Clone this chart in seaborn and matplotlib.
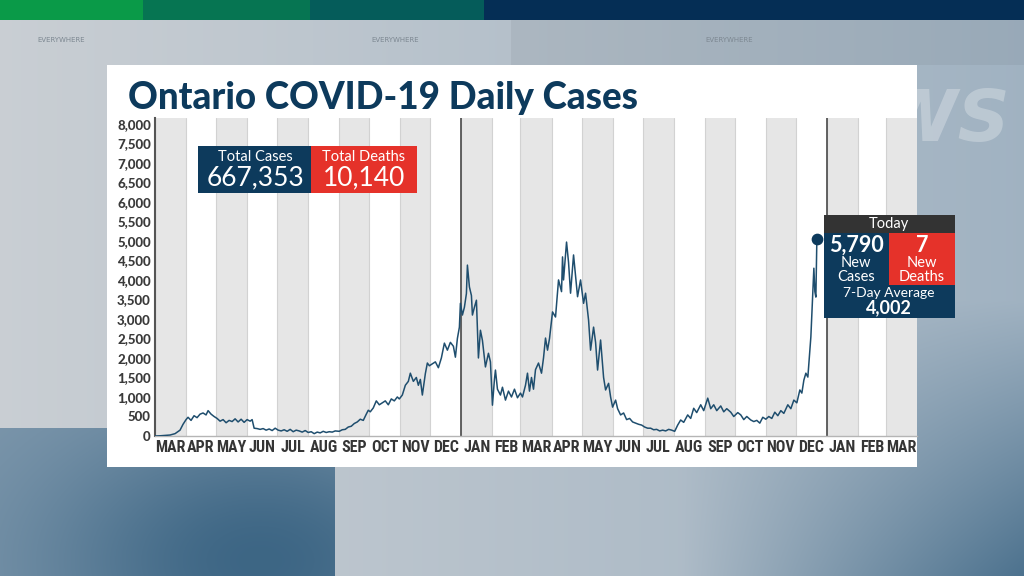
import numpy as np
import pandas as pd
import matplotlib.pyplot as plt
import seaborn as sns
from matplotlib.patches import Rectangle
from matplotlib import font_manager as fm

# data: days since 2020-03-01 and daily new cases
start_date = '2020-03-01'
days = [0, 5, 10, 15, 20, 25, 28, 31, 33, 36, 39, 42, 45, 48, 51, 53, 56, 59,
        62, 65, 68, 71, 74, 77, 80, 83, 86, 89, 92, 95, 97,
        99, 102, 105, 108, 111, 114, 117, 120,
        123, 126, 129, 132, 135, 138, 141, 144, 147, 150,
        153, 156, 159, 162, 165, 168, 171, 174, 177, 180,
        184, 187, 190, 193, 196, 199, 202, 205, 208, 211, 213,
        215, 218, 221, 224, 227, 230, 233, 236, 239, 242, 244,
        247, 250, 253, 255, 258, 261, 263, 265, 267, 270, 272, 274,
        277, 280, 283, 286, 289, 292, 295, 298, 300, 302, 304, 305,
        307, 309, 311, 312, 314, 316, 317, 319, 321, 323, 325, 327, 330, 333, 335,
        337, 339, 340, 342, 345, 347, 350, 353, 356, 359, 362,
        365, 367, 370, 372, 374, 376, 378, 380, 383, 386, 388, 390, 392, 394,
        397, 400, 403, 406, 407, 408, 411, 413, 415, 418, 420, 422, 425,
        428, 430, 433, 435, 438, 440, 442, 445, 448, 450, 453, 455, 457,
        460, 462, 465, 468, 471, 474, 477, 480, 483, 486,
        489, 492, 495, 498, 501, 504, 507, 510, 513, 516,
        519, 522, 525, 528, 532, 535, 538, 541, 545, 548,
        552, 555, 558, 561, 565, 568, 571, 575, 578,
        582, 585, 588, 591, 595, 598, 601, 604, 607,
        610, 613, 616, 619, 622, 625, 628, 632, 635, 638, 641,
        644, 646, 648, 650, 652, 655, 658, 659, 660, 661]
cases = [0, 5, 15, 25, 60, 150, 300, 420, 480, 400, 520, 470, 560, 590, 540, 650, 560, 500,
         450, 380, 420, 340, 400, 370, 440, 360, 430, 350, 420, 380, 420,
         200, 190, 170, 190, 150, 180, 140, 200,
         150, 130, 160, 120, 170, 110, 150, 130, 100, 140,
         90, 110, 60, 100, 80, 120, 90, 110, 100, 130,
         120, 160, 170, 230, 250, 320, 360, 430, 400, 560, 660,
         620, 720, 900, 800, 850, 900, 800, 950, 900, 1000, 950,
         1050, 1300, 1400, 1610, 1400, 1500, 1300, 1450, 1050, 1600, 1870, 1800,
         1850, 1900, 1750, 2000, 2380, 2200, 2400, 2300, 2020, 2500, 2790, 3400,
         3100, 3300, 3650, 4380, 3820, 3600, 3100, 3300, 3480, 2000, 2710, 2450, 1770, 2120, 1900,
         790, 1450, 1690, 1200, 1050, 1250, 920, 1150, 1000, 1200, 980,
         1100, 1000, 1300, 1610, 1150, 1500, 1200, 1700, 1870, 1610, 2000, 2510, 2200, 2500,
         3180, 3050, 4000, 3700, 4590, 4000, 4970, 4450, 3660, 4640, 4100, 3570, 4000,
         3400, 3660, 2970, 2200, 2790, 2400, 1690, 2460, 1500, 1180, 1350, 1000, 740,
         920, 700, 540, 590, 420, 450, 360, 330, 300, 280,
         230, 200, 200, 160, 170, 130, 150, 130, 170, 150,
         120, 280, 410, 350, 540, 450, 710, 600, 800, 650,
         970, 700, 800, 650, 770, 620, 700, 610, 500,
         600, 540, 420, 500, 410, 370, 400, 330, 480,
         430, 500, 450, 610, 520, 650, 580, 800, 700, 920, 850,
         1180, 1100, 1430, 1610, 1510, 2540, 4300, 3700, 3560, 5050]
assert len(days) == len(cases)

month_labels = ['MAR', 'APR', 'MAY', 'JUN', 'JUL', 'AUG', 'SEP', 'OCT', 'NOV', 'DEC', 'JAN', 'FEB',
                'MAR', 'APR', 'MAY', 'JUN', 'JUL', 'AUG', 'SEP', 'OCT', 'NOV', 'DEC', 'JAN', 'FEB', 'MAR']
y_ticks = list(range(0, 8001, 500))

total_cases = '667,353'
total_deaths = '10,140'
new_cases = '5,790'
new_deaths = '7'
avg_7day = '4,002'

NAVY = '#0d3a5c'
RED = '#e5322a'
LINE = '#1f4e6e'

df = pd.DataFrame({'date': pd.to_datetime(start_date) + pd.to_timedelta(days, unit='D'),
                   'cases': cases})

sns.set_style('white')
plt.rcParams['font.family'] = ['Lato', 'DejaVu Sans']

# pick a narrow bold face for the month labels if one is around
month_font = fm.FontProperties(family='DejaVu Sans', weight='bold')
for f in fm.fontManager.ttflist:
    if f.name in ('Roboto Condensed', 'Liberation Sans Narrow') and f.weight in (700, 'bold'):
        month_font = fm.FontProperties(fname=f.fname)
        break
else:
    for f in fm.fontManager.ttflist:
        if f.name == 'DejaVu Sans' and f.stretch == 'condensed' and f.weight in (700, 'bold'):
            month_font = fm.FontProperties(fname=f.fname)
            break

fig = plt.figure(figsize=(10.24, 5.76), dpi=100)

# background: broadcast style gradient
W, H = 1024, 576
xx, yy = np.meshgrid(np.arange(W), np.arange(H))
c_left = np.array([0.79, 0.81, 0.83])
c_right = np.array([0.63, 0.70, 0.76])
t = (xx / W)[..., None]
bg = c_left * (1 - t) + c_right * t
blue_dark = np.array([0.24, 0.40, 0.52])
# lower-left block
blk = (xx < 335) & (yy > 427)
d = np.exp(-(((xx - 260) / 220.0) ** 2 + ((yy - 560) / 140.0) ** 2))
lower_left = np.array([0.50, 0.60, 0.68]) * (1 - d[..., None]) + blue_dark * d[..., None]
bg = np.where(blk[..., None], lower_left, bg)
# lower right darkening
d2 = np.clip((xx - 680) / 344.0, 0, 1) * np.clip((yy - 300) / 276.0, 0, 1)
bg = bg * (1 - d2[..., None] * 0.85) + blue_dark * d2[..., None] * 0.85
# upper-right band
ur = (xx > 510) & (yy < 65)
bg = np.where(ur[..., None], bg * 0.95, bg)

ax_bg = fig.add_axes([0, 0, 1, 1])
ax_bg.imshow(np.clip(bg, 0, 1), aspect='auto', extent=(0, 1, 0, 1), origin='upper')
ax_bg.set_xlim(0, 1)
ax_bg.set_ylim(0, 1)
ax_bg.axis('off')
for x0, x1, col in [(0, 143, '#0a9a48'), (143, 310, '#067552'), (310, 484, '#055c5a'), (484, 1024, '#052e55')]:
    ax_bg.add_patch(Rectangle((x0 / W, 1 - 20 / H), (x1 - x0) / W, 20 / H, color=col, lw=0))
for xc in [61, 395, 729]:
    ax_bg.text(xc / W, 1 - 40 / H, 'EVERYWHERE', fontsize=5, color='#7d8892',
               ha='center', va='center', family='DejaVu Sans')
ax_bg.text(1010 / W, 1 - 122 / H, 'NEWS', fontsize=52, color='white', alpha=0.28,
           fontweight='bold', style='italic', ha='right', va='center', family='DejaVu Sans')
# white panel
ax_bg.add_patch(Rectangle((107 / W, 1 - 467 / H), 810 / W, 402 / H, color='white', lw=0))

fig.text(128 / W, 1 - 98 / H, 'Ontario COVID-19 Daily Cases', fontsize=26.5, fontweight='black',
         color=NAVY, ha='left', va='center')

# main chart axes
ax = fig.add_axes([155 / W, 1 - 436 / H, 762 / W, 318 / H])
ax.set_facecolor('white')
month_edges = pd.date_range('2020-03-01', '2022-04-01', freq='MS')
for i in range(len(month_edges) - 1):
    if i % 2 == 0:
        ax.axvspan(month_edges[i], month_edges[i + 1], color='#e6e6e6', lw=0, zorder=0)
    ax.axvline(month_edges[i], color='#d2d2d2', lw=0.8, zorder=0.5)
for jan in ['2021-01-01', '2022-01-01']:
    ax.axvline(pd.Timestamp(jan), color='#555555', lw=1.3, zorder=1)

sns.lineplot(data=df, x='date', y='cases', ax=ax, color=LINE, lw=1.1, zorder=3)
ax.scatter(df['date'].iloc[-1], df['cases'].iloc[-1], s=55, color=NAVY, zorder=4)

ax.set_xlim(month_edges[0], month_edges[-1])
ax.set_ylim(0, 8150)
mids = [month_edges[i] + (month_edges[i + 1] - month_edges[i]) / 2 for i in range(len(month_edges) - 1)]
ax.set_xticks(mids)
ax.set_xticklabels(month_labels, fontproperties=month_font, color='#353535')
ax.set_yticks(y_ticks)
ax.set_yticklabels([f'{v:,}' for v in y_ticks], fontsize=9.5, fontweight='black', color='#3a3a3a')
ax.tick_params(axis='x', length=0, pad=3)
ax.tick_params(axis='y', length=0, pad=3)
ax.set_xlabel('')
ax.set_ylabel('')
for s in ['top', 'right']:
    ax.spines[s].set_visible(False)
ax.spines['left'].set_color('#555555')
ax.spines['left'].set_linewidth(1.5)
ax.spines['bottom'].set_color('#b5b5b5')
ax.spines['bottom'].set_linewidth(1)

# shrink month labels until the widest fits inside one month band
size = 15.0
for _ in range(40):
    for lab in ax.get_xticklabels():
        lab.set_fontsize(size)
    fig.canvas.draw()
    rend = fig.canvas.get_renderer()
    widest = max(lab.get_window_extent(rend).width for lab in ax.get_xticklabels())
    if widest <= 30.5:
        break
    size -= 0.25


def box(x0, y0, x1, y1, col):
    fig.add_artist(Rectangle((x0 / W, 1 - y1 / H), (x1 - x0) / W, (y1 - y0) / H,
                             color=col, lw=0, transform=fig.transFigure, zorder=5))


def label(x, y, s, size, weight='normal'):
    fig.text(x / W, 1 - y / H, s, fontsize=size, fontweight=weight, color='white',
             ha='center', va='center', zorder=6)


# totals box
box(198, 146, 311, 193, NAVY)
box(311, 146, 417, 193, RED)
label(255, 157, 'Total Cases', 10.5)
label(255, 178, total_cases, 19)
label(364, 157, 'Total Deaths', 10.5)
label(364, 178, total_deaths, 19)

# today box
box(824, 215, 955, 233, '#333333')
box(824, 233, 955, 318, NAVY)
box(889, 233, 955, 285, RED)
label(889, 224, 'Today', 10.5)
label(856, 245, new_cases, 15.5, 'bold')
label(856, 263, 'New', 10.5)
label(856, 277, 'Cases', 10.5)
label(922, 245, new_deaths, 15.5, 'bold')
label(922, 263, 'New', 10.5)
label(922, 277, 'Deaths', 10.5)
label(889, 293, '7-Day Average', 10)
label(889, 308, avg_7day, 13, 'bold')

fig.savefig('out.png', dpi=100)
